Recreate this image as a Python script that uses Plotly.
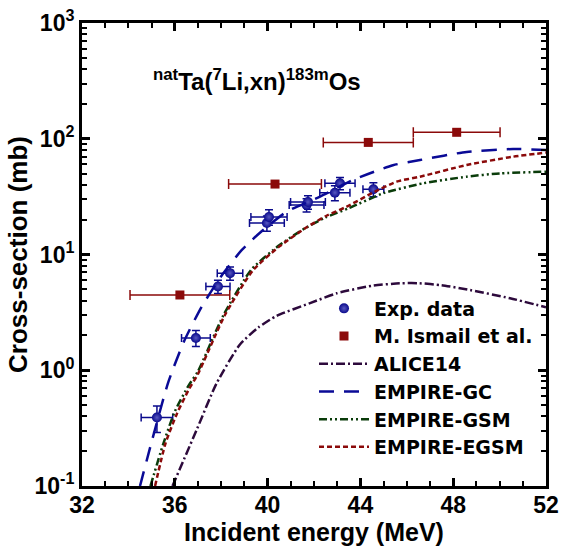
import plotly.graph_objects as go

# ---- data ----
exp_x = [35.23, 36.91, 37.86, 38.38, 39.97, 40.06, 41.68, 41.74, 42.90, 43.12, 44.56]
exp_y = [0.39, 1.9, 5.3, 6.9, 18.7, 21.1, 26.8, 28.4, 34.2, 41.2, 36.6]
exp_xerr = [0.68, 0.62, 0.52, 0.55, 0.75, 0.78, 0.75, 0.75, 0.65, 0.65, 0.45]
exp_yerr = [0.10, 0.30, 0.7, 0.9, 2.8, 3.2, 3.5, 3.8, 5.0, 5.0, 5.0]

ism_x = [36.22, 40.32, 44.34, 48.15]
ism_y = [4.47, 40.6, 93.0, 113.7]
ism_xerr = [2.15, 2.0, 1.94, 1.87]

alice_x = [35.9, 36.94, 37.8, 38.8, 39.6, 40.39, 41.83, 42.98, 44.5, 45.7, 46.5, 47.5, 48.72, 50.45, 52.0]
alice_y = [0.10, 0.305, 0.77, 1.66, 2.34, 2.95, 3.8, 4.62, 5.37, 5.64, 5.65, 5.43, 4.93, 4.19, 3.5]

gc_x = [34.5, 35.0, 35.72, 36.4, 37.16, 38.0, 38.88, 39.67, 40.82, 42.26, 43.68, 45.4, 46.57, 48.58, 50.58, 52.0]
gc_y = [0.10, 0.24, 0.79, 1.78, 3.54, 6.5, 10.9, 15.4, 23.4, 31.6, 44.0, 59.0, 65.5, 77.0, 81.5, 80.0]

gsm_x = [34.95, 35.5, 36.0, 36.6, 37.0, 38.1, 39.3, 40.5, 41.6, 42.5, 43.5, 45.0, 46.7, 48.58, 50.0, 52.0]
gsm_y = [0.10, 0.23, 0.44, 0.74, 0.98, 3.0, 7.4, 12.0, 16.8, 20.9, 25.1, 33.9, 41.2, 47.0, 50.2, 51.9]

egsm_x = [35.15, 35.6, 36.1, 36.6, 37.0, 38.16, 39.38, 40.5, 41.61, 42.5, 43.41, 44.5, 45.56, 46.57, 48.58, 50.58, 52.0]
egsm_y = [0.10, 0.234, 0.425, 0.68, 0.93, 3.0, 7.35, 11.7, 16.8, 21.4, 25.9, 33.9, 42.6, 47.0, 59.3, 70.0, 75.9]

ytick_vals = [0.1, 1, 10, 100, 1000]
ytick_text = ["10<sup>-1</sup>", "10<sup>0</sup>", "10<sup>1</sup>", "10<sup>2</sup>", "10<sup>3</sup>"]
xtick_vals = [32, 36, 40, 44, 48, 52]

NAVY = "#0a0a8c"
RED = "#8b0a0a"
FONT = "Liberation Sans"

L, R, T, B = 82, 22, 23, 60
PW, PH = 568 - L - R, 546 - T - B

fig = go.Figure()

fig.add_trace(go.Scatter(
    x=exp_x, y=exp_y, mode="markers", name="Exp. data", legendgroup="a",
    marker=dict(symbol="circle", size=10, color=NAVY,
                gradient=dict(type="radial", color="#5858c0")),
    error_x=dict(type="data", array=exp_xerr, color=NAVY, thickness=1.5, width=4),
    error_y=dict(type="data", array=exp_yerr, color=NAVY, thickness=1.5, width=4),
))
fig.add_trace(go.Scatter(
    x=ism_x, y=ism_y, mode="markers", name="M. Ismail et al.", legendgroup="b",
    marker=dict(symbol="square", size=9, color=RED),
    error_x=dict(type="data", array=ism_xerr, color=RED, thickness=1.5, width=5),
))
fig.add_trace(go.Scatter(
    x=alice_x, y=alice_y, mode="lines", name="ALICE14", legendgroup="c",
    line=dict(color="#2d0a3c", width=2.5, dash="9px,3px,2px,3px", shape="spline", smoothing=0.6),
))
fig.add_trace(go.Scatter(
    x=gc_x, y=gc_y, mode="lines", name="EMPIRE-GC", legendgroup="d",
    line=dict(color="#0a0a96", width=2.5, dash="15px,10px", shape="spline", smoothing=0.6),
))
fig.add_trace(go.Scatter(
    x=gsm_x, y=gsm_y, mode="lines", name="EMPIRE-GSM", legendgroup="e",
    line=dict(color="#0a3c0a", width=2.5, dash="8px,3px,2px,3px,2px,3px", shape="spline", smoothing=0.6),
))
fig.add_trace(go.Scatter(
    x=egsm_x, y=egsm_y, mode="lines", name="EMPIRE-EGSM", legendgroup="f",
    line=dict(color="#8b0a0a", width=2.5, dash="5px,3px", shape="spline", smoothing=0.6),
))

fig.add_annotation(
    text="<sup>nat</sup>Ta(<sup>7</sup>Li,xn)<sup>183m</sup>Os",
    x=(257 - L) / PW, y=1 - (80 - T) / PH, xref="paper", yref="paper",
    xanchor="center", yanchor="middle", showarrow=False,
    font=dict(family=FONT, size=24, color="black", weight="bold"),
)

axis_common = dict(
    showline=True, linecolor="black", linewidth=3, mirror="allticks",
    ticks="inside", ticklen=8, tickwidth=2.5, tickcolor="black",
    showgrid=False, zeroline=False,
    tickfont=dict(family=FONT, size=23, color="black", weight="bold"),
)

fig.update_xaxes(
    range=[32, 52], tickvals=xtick_vals, ticklabelstandoff=-4,
    minor=dict(ticks="inside", ticklen=5, tickwidth=2, dtick=1, tickcolor="black"),
    title=dict(text="Incident energy (MeV)", standoff=6,
               font=dict(family=FONT, size=25, color="black", weight="bold")),
    **axis_common,
)
fig.update_yaxes(
    type="log", range=[-1, 3], tickvals=ytick_vals, ticktext=ytick_text,
    minor=dict(ticks="inside", ticklen=5, tickwidth=2, tickcolor="black",
               tickvals=[m * 10 ** e for e in (-1, 0, 1, 2) for m in range(2, 10)]),
    title=dict(text="Cross-section (mb)", standoff=0,
               font=dict(family=FONT, size=26, color="black", weight="bold")),
    **axis_common,
)

fig.update_layout(
    width=568, height=546,
    margin=dict(l=L, r=R, t=T, b=B, autoexpand=False),
    plot_bgcolor="white", paper_bgcolor="white",
    showlegend=True,
    legend=dict(
        x=0.5, y=0.4244, xanchor="left", yanchor="top",
        bgcolor="rgba(0,0,0,0)", borderwidth=0,
        font=dict(family="DejaVu Sans", size=19, color="black", weight="bold"),
        tracegroupgap=0, itemwidth=50,
    ),
    font=dict(family=FONT, color="black"),
)

fig.write_html("out.html")
